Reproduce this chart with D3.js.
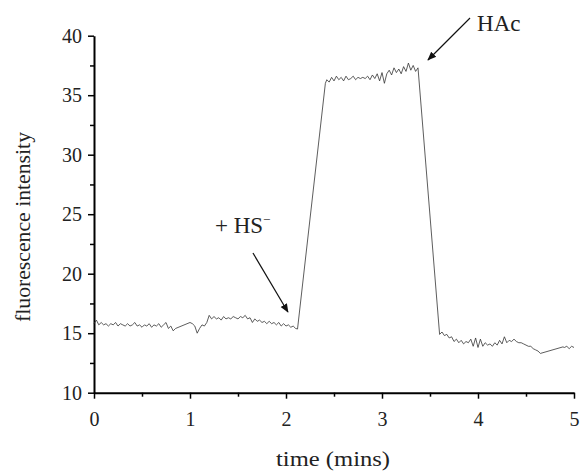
<!DOCTYPE html>
<html>
<head>
<meta charset="utf-8">
<script src="https://cdn.jsdelivr.net/npm/d3@7"></script>
<style>
  body { margin: 0; background: #fff; }
  text { font-family: 'Liberation Serif', serif; fill: #222; }
</style>
</head>
<body>
<div id="chart"></div>
<script>

// data (time in mins, fluorescence intensity)
var time = [
  0, 0.025, 0.05, 0.075, 0.1, 0.125, 0.15, 0.175, 0.2, 0.225,
  0.25, 0.275, 0.3, 0.325, 0.35, 0.375, 0.4, 0.425, 0.45, 0.475,
  0.5, 0.525, 0.55, 0.575, 0.6, 0.625, 0.65, 0.675, 0.7, 0.725,
  0.75, 0.775, 0.8, 0.825, 0.85,
  1.0, 1.025, 1.05, 1.075, 1.1, 1.125, 1.15, 1.175, 1.2, 1.225,
  1.25, 1.275, 1.3, 1.325, 1.35, 1.375, 1.4, 1.425, 1.45, 1.475,
  1.5, 1.525, 1.55, 1.575, 1.6, 1.625, 1.65, 1.675, 1.7, 1.725,
  1.75, 1.775, 1.8, 1.825, 1.85, 1.875, 1.9, 1.925, 1.95, 1.975,
  2.0, 2.025, 2.05, 2.075, 2.1, 2.12,
  2.41, 2.425, 2.45, 2.475, 2.5, 2.525, 2.55, 2.575, 2.6, 2.625,
  2.65, 2.675, 2.7, 2.725, 2.75, 2.775, 2.8, 2.825, 2.85, 2.875,
  2.9, 2.925, 2.95, 2.975, 3.0, 3.025, 3.05, 3.075, 3.1, 3.125,
  3.15, 3.175, 3.2, 3.225, 3.25, 3.275, 3.3, 3.325, 3.35, 3.375,
  3.6, 3.625, 3.65, 3.675, 3.7, 3.725, 3.75, 3.775, 3.8, 3.825,
  3.85, 3.875, 3.9, 3.925, 3.95, 3.975, 4.0, 4.025, 4.05, 4.075,
  4.1, 4.125, 4.15, 4.175, 4.2, 4.225, 4.25, 4.275, 4.3, 4.325,
  4.35, 4.375, 4.4, 4.425, 4.45, 4.475, 4.5, 4.525, 4.55, 4.575,
  4.6, 4.625, 4.65,
  4.885, 4.9, 4.925, 4.95, 4.975, 5.0
];
var intensity = [
  15.8, 16.1, 15.7, 15.9, 15.7, 15.8, 15.6, 15.8, 15.7, 15.9,
  15.6, 15.8, 15.7, 15.6, 15.8, 15.6, 15.7, 15.9, 15.6, 15.7,
  15.5, 15.7, 15.6, 15.8, 15.5, 15.7, 15.6, 15.8, 15.5, 15.7,
  15.9, 15.4, 15.6, 15.2, 15.4,
  15.9, 15.8, 15.6, 15.0, 15.4, 15.7, 15.6, 15.9, 16.5, 16.2,
  16.4, 16.2, 16.3, 16.1, 16.4, 16.2, 16.3, 16.2, 16.4, 16.3,
  16.2, 16.4, 16.3, 16.5, 16.2, 16.3, 15.9, 16.2, 16.0, 16.1,
  15.9, 16.0, 15.8, 16.0, 15.8, 15.9, 15.7, 15.9, 15.6, 15.8,
  15.6, 15.7, 15.5, 15.6, 15.4, 15.35,
  36.0, 36.3, 36.1, 36.5, 36.2, 36.6, 36.3, 36.5, 36.2, 36.6,
  36.3, 36.4, 36.6, 36.3, 36.5, 36.4, 36.5, 36.4, 36.6, 36.3,
  36.7, 36.4, 36.8, 36.2, 36.9, 36.0, 36.8, 37.1, 36.7, 37.3,
  36.9, 37.2, 36.8, 37.4, 37.0, 37.7, 37.1, 37.5, 37.0, 37.3,
  14.9, 15.1, 14.8, 14.9, 14.6, 14.7, 14.3, 14.5, 14.2, 14.4,
  14.1, 14.3, 14.2, 14.5, 13.9, 14.6, 13.8, 14.5, 13.9, 14.2,
  14.0, 14.1, 13.9, 14.2, 14.0, 14.4, 14.1, 14.7, 14.2, 14.4,
  14.3, 14.5, 14.3, 14.2, 14.2, 14.1, 14.0, 13.9, 13.9, 13.7,
  13.6, 13.5, 13.3,
  13.85, 13.8, 13.9, 13.7, 13.9, 13.8
];

var xTicks = [0, 1, 2, 3, 4, 5];
var yTicks = [10, 15, 20, 25, 30, 35, 40];

var width = 581, height = 474;
var serif = "'Liberation Serif', 'Times New Roman', serif";

var svg = d3.select("#chart")
  .append("svg")
    .attr("width", width)
    .attr("height", height);

var x = d3.scaleLinear()
  .domain([0, 5])
  .range([94, 574]);

var y = d3.scaleLinear()
  .domain([10, 40])
  .range([392.7, 35.7]);

// minor ticks
svg.append("g")
    .attr("transform", "translate(0," + y(10) + ")")
    .call(d3.axisBottom(x).tickValues([0.5, 1.5, 2.5, 3.5, 4.5]).tickSize(4).tickFormat(""))
    .call(function(g) { g.select(".domain").remove(); })
    .selectAll("line").attr("stroke-width", 1.5);
svg.append("g")
    .attr("transform", "translate(" + x(0) + ",0)")
    .call(d3.axisLeft(y).tickValues([12.5, 17.5, 22.5, 27.5, 32.5, 37.5]).tickSize(4).tickFormat(""))
    .call(function(g) { g.select(".domain").remove(); })
    .selectAll("line").attr("stroke-width", 1.5);

// X axis
var gx = svg.append("g")
    .attr("transform", "translate(0," + y(10) + ")")
    .call(d3.axisBottom(x).tickValues(xTicks).tickFormat(d3.format("d"))
      .tickSize(6).tickPadding(13).tickSizeOuter(0));
gx.attr("font-family", null);
gx.select(".domain").attr("stroke-width", 2);
gx.selectAll("line").attr("stroke-width", 1.5);
gx.selectAll("text").style("font-size", "20px").style("font-family", serif);

// Y axis
var gy = svg.append("g")
    .attr("transform", "translate(" + x(0) + ",0)")
    .call(d3.axisLeft(y).tickValues(yTicks).tickFormat(d3.format("d"))
      .tickSize(6).tickPadding(6).tickSizeOuter(0));
gy.attr("font-family", null);
gy.select(".domain").attr("stroke-width", 2);
gy.selectAll("line").attr("stroke-width", 1.5);
gy.selectAll("text").style("font-size", "20px").style("font-family", serif);

// trace
var points = time.map(function(t, i) { return [t, intensity[i]]; });
svg.append("path")
    .datum(points)
    .attr("fill", "none")
    .attr("stroke", "#333")
    .attr("stroke-width", 0.8)
    .attr("d", d3.line()
      .x(function(d) { return x(d[0]); })
      .y(function(d) { return y(d[1]); }));

// axis titles
svg.append("text")
    .attr("x", 276)
    .attr("y", 466)
    .attr("textLength", 114)
    .attr("lengthAdjust", "spacingAndGlyphs")
    .style("font-family", serif)
    .style("font-size", "21px")
    .text("time (mins)");

svg.append("text")
    .attr("transform", "translate(30,322) rotate(-90)")
    .attr("textLength", 190)
    .attr("lengthAdjust", "spacingAndGlyphs")
    .style("font-family", serif)
    .style("font-size", "20px")
    .text("fluorescence intensity");

// annotations
svg.append("defs").append("marker")
    .attr("id", "arrow")
    .attr("viewBox", "0 0 10 10")
    .attr("refX", 9).attr("refY", 5)
    .attr("markerWidth", 9).attr("markerHeight", 9)
    .attr("markerUnits", "userSpaceOnUse")
    .attr("orient", "auto")
  .append("path")
    .attr("d", "M0,1 L10,5 L0,9 z")
    .attr("fill", "#111");

var hs = svg.append("text")
    .attr("x", x(1.26))
    .attr("y", y(23.42))
    .style("font-family", serif)
    .style("font-size", "23px");
hs.append("tspan").text("+ HS");
hs.append("tspan").attr("dy", -9).style("font-size", "13px").text("−");

svg.append("line")
    .attr("x1", x(1.656)).attr("y1", y(21.74))
    .attr("x2", x(2.02)).attr("y2", y(16.78))
    .attr("stroke", "#111")
    .attr("stroke-width", 1.2)
    .attr("marker-end", "url(#arrow)");

svg.append("text")
    .attr("x", x(3.99))
    .attr("y", y(40.4))
    .style("font-family", serif)
    .style("font-size", "23px")
    .text("HAc");

svg.append("line")
    .attr("x1", x(3.917)).attr("y1", y(41.49))
    .attr("x2", x(3.479)).attr("y2", y(37.96))
    .attr("stroke", "#111")
    .attr("stroke-width", 1.2)
    .attr("marker-end", "url(#arrow)");

</script>
</body>
</html>
